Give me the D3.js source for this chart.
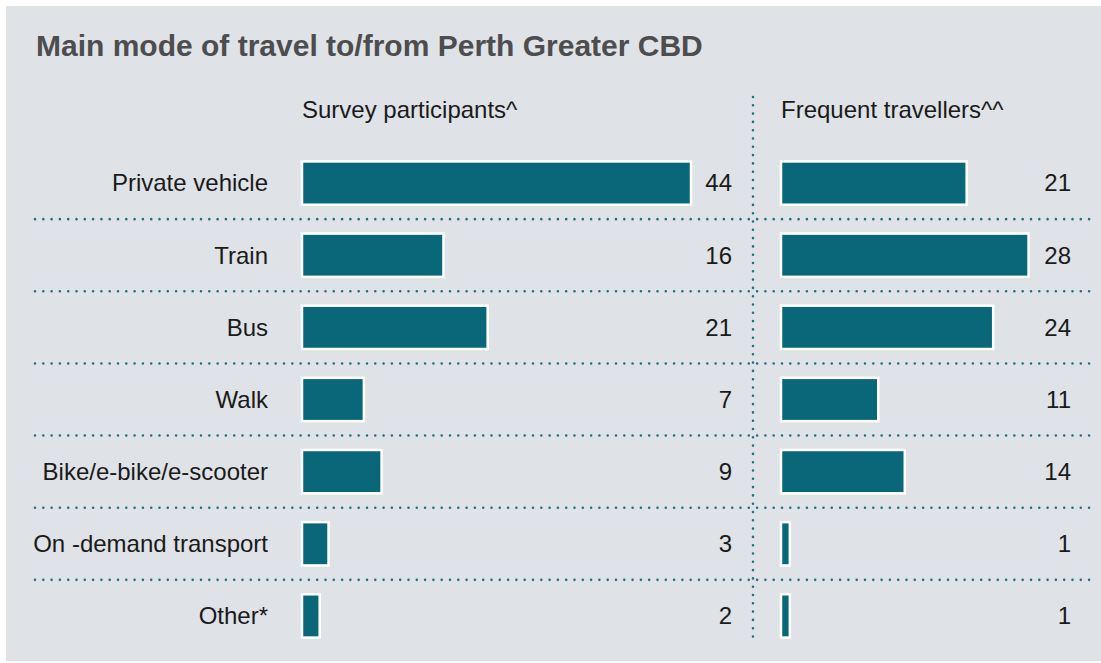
<!DOCTYPE html>
<html>
<head>
<meta charset="utf-8">
<script src="https://cdn.jsdelivr.net/npm/d3@7"></script>
<style>
  html, body { margin: 0; padding: 0; background: #ffffff; }
  svg { display: block; font-family: "Liberation Sans", Arial, Helvetica, sans-serif; }
</style>
</head>
<body>
<svg id="chart" width="1101" height="663"></svg>
<script>
// Main mode of travel, per cent of respondents
const categories = ["Private vehicle", "Train", "Bus", "Walk", "Bike/e-bike/e-scooter", "On -demand transport", "Other*"];
const surveyParticipants = [44, 16, 21, 7, 9, 3, 2];
const frequentTravellers = [21, 28, 24, 11, 14, 1, 1];
const panelTitles = ["Survey participants^", "Frequent travellers^^"];
const chartTitle = "Main mode of travel to/from Perth Greater CBD";

const W = 1101, H = 663;
const teal = "#0a6679";
const dotColor = "#1f7185";
const labelSize = 24;

const svg = d3.select("#chart");

// background panel
svg.append("rect")
  .attr("x", 6).attr("y", 6)
  .attr("width", W - 6).attr("height", 655)
  .attr("fill", "#dfe2e6");

svg.append("text")
  .attr("x", 36).attr("y", 56)
  .attr("font-size", 30).attr("font-weight", "bold")
  .attr("fill", "#4d4d4f")
  .text(chartTitle);

// row bands
const y = d3.scaleBand()
  .domain(categories)
  .range([147, 652])
  .paddingInner(0.4)
  .paddingOuter(0.2);

// shared value scale (same units per percent in both panels)
const unit = (691 - 302) / 44;
const xLeft = d3.scaleLinear().domain([0, 44]).range([302, 302 + 44 * unit]);
const xRight = d3.scaleLinear().domain([0, 28]).range([781, 781 + 28 * unit]);

// category labels
svg.append("g").selectAll("text")
  .data(categories)
  .join("text")
  .attr("x", 268)
  .attr("y", d => y(d) + y.bandwidth() / 2)
  .attr("dy", "0.35em")
  .attr("text-anchor", "end")
  .attr("font-size", labelSize)
  .attr("fill", "#1a1a1a")
  .text(d => d);

// dotted separators between rows
const step = y.step();
const seps = categories.slice(1).map(c => y(c) - (step - y.bandwidth()) / 2);
svg.append("g").selectAll("line")
  .data(seps)
  .join("line")
  .attr("x1", 35).attr("x2", 1095)
  .attr("y1", d => d).attr("y2", d => d)
  .attr("stroke", dotColor)
  .attr("stroke-width", 2.6)
  .attr("stroke-linecap", "round")
  .attr("stroke-dasharray", "0 8.3");

// vertical dotted divider
svg.append("line")
  .attr("x1", 753).attr("x2", 753)
  .attr("y1", 97).attr("y2", 641)
  .attr("stroke", dotColor)
  .attr("stroke-width", 2.6)
  .attr("stroke-linecap", "round")
  .attr("stroke-dasharray", "0 8.3");

function panel(values, x, labelX, title) {
  const g = svg.append("g");
  g.append("text")
    .attr("x", x(0)).attr("y", 118)
    .attr("font-size", labelSize)
    .attr("fill", "#1a1a1a")
    .text(title);

  g.selectAll("rect")
    .data(values)
    .join("rect")
    .attr("x", x(0))
    .attr("y", (d, i) => y(categories[i]))
    .attr("width", d => x(d) - x(0))
    .attr("height", y.bandwidth())
    .attr("fill", teal)
    .attr("stroke", "#ffffff")
    .attr("stroke-width", 2.5);

  g.selectAll("text.val")
    .data(values)
    .join("text")
    .attr("class", "val")
    .attr("x", labelX)
    .attr("y", (d, i) => y(categories[i]) + y.bandwidth() / 2)
    .attr("dy", "0.35em")
    .attr("text-anchor", "end")
    .attr("font-size", labelSize)
    .attr("fill", "#1a1a1a")
    .text(d => d);
}

panel(surveyParticipants, xLeft, 732, panelTitles[0]);
panel(frequentTravellers, xRight, 1071, panelTitles[1]);
</script>
</body>
</html>
